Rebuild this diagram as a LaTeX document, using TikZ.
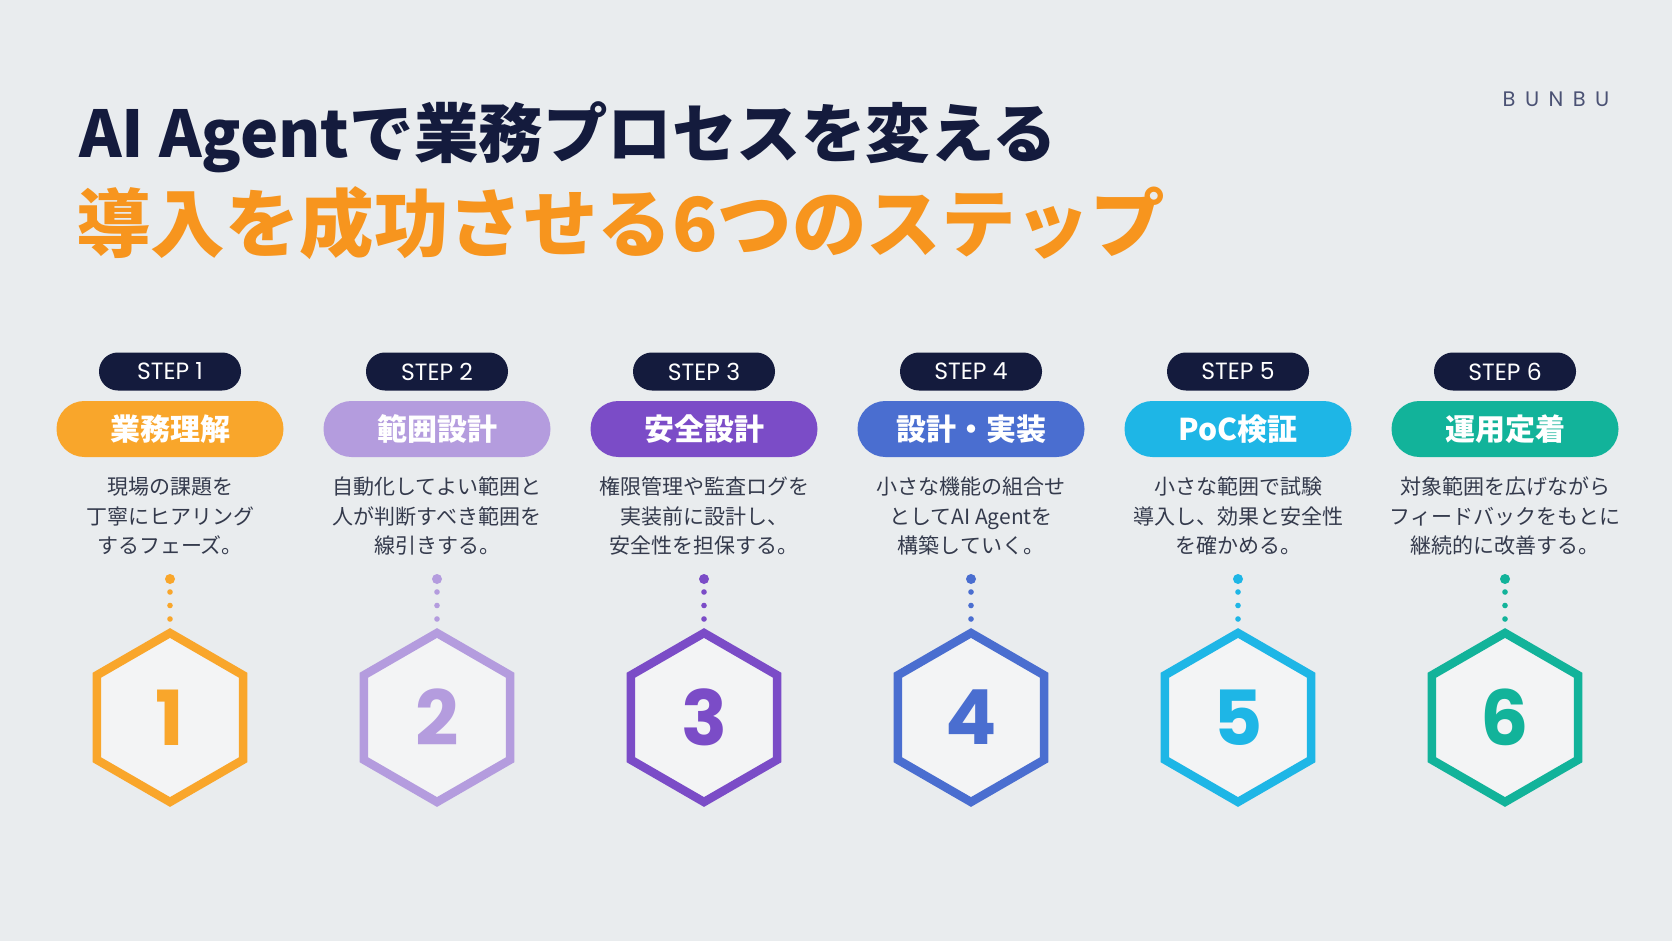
\documentclass[tikz,border=0pt]{standalone}
\usepackage{fontspec}
\setmainfont{Noto Sans CJK JP}
\newfontfamily\pop{Poppins}
\newfontfamily\bunbufont{Poppins}[LetterSpace=45]
\definecolor{bg}{HTML}{E9ECEE}
\definecolor{navy}{HTML}{141B3D}
\definecolor{titleorange}{HTML}{F7951E}
\definecolor{desc}{HTML}{343A4C}
\definecolor{brand}{HTML}{4B5274}
\definecolor{hexfill}{HTML}{F3F4F5}
\definecolor{cA}{HTML}{F9A62B}
\definecolor{cB}{HTML}{B49CDE}
\definecolor{cC}{HTML}{7B4CC7}
\definecolor{cD}{HTML}{4A6ED0}
\definecolor{cE}{HTML}{1EB6E6}
\definecolor{cF}{HTML}{12B39A}
\begin{document}
\begin{tikzpicture}[x=1pt,y=-1pt,
  steppill/.style={fill=navy, rounded corners=18.9pt, minimum width=142pt, minimum height=38pt, text=white, font=\pop\fontsize{23.5}{26}\selectfont, inner sep=0pt},
  namepill/.style={rounded corners=27.9pt, minimum width=227pt, minimum height=56pt, text=white, font=\bfseries\fontsize{30}{32}\selectfont, inner sep=0pt},
  desctext/.style={align=center, text=desc, font=\fontsize{21}{29.5}\selectfont, inner sep=0pt},
  numtext/.style={font=\pop\bfseries\fontsize{76}{76}\selectfont, inner sep=0pt},
  hexline/.style={line width=8.5pt, fill=hexfill, line join=miter}
]
\useasboundingbox (0,0) rectangle (1672,941);
\fill[bg] (0,0) rectangle (1672,941);

\node[text=brand, font=\bunbufont\fontsize{21}{24}\selectfont, anchor=center] (brand) at (1556,99) {BUNBU};

\node[anchor=base west, text=navy, font=\bfseries\fontsize{64.5}{70}\selectfont, inner sep=0pt] (title1) at (79,158) {AI Agentで業務プロセスを変える};
\node[anchor=base west, text=titleorange, font=\bfseries\fontsize{74.5}{78}\selectfont, inner sep=0pt] (title2) at (76,252) {導入を成功させる6つのステップ};

\foreach \i/\col/\name/\desc in {
  1/cA/業務理解/{現場の課題を\\丁寧にヒアリング\\するフェーズ。},
  2/cB/範囲設計/{自動化してよい範囲と\\人が判断すべき範囲を\\線引きする。},
  3/cC/安全設計/{権限管理や監査ログを\\実装前に設計し、\\安全性を担保する。},
  4/cD/設計・実装/{小さな機能の組合せ\\としてAI Agentを\\構築していく。},
  5/cE/PoC検証/{小さな範囲で試験\\導入し、効果と安全性\\を確かめる。},
  6/cF/運用定着/{対象範囲を広げながら\\フィードバックをもとに\\継続的に改善する。}} {
  \pgfmathsetmacro{\cx}{170+267*(\i-1)}
  \node[steppill] (step\i) at (\cx,371.5) {STEP \i};
  \node[namepill, fill=\col] (name\i) at (\cx,429) {\name};
  \node[desctext] (desc\i) at (\cx,516) {\desc};
  \coordinate (dot\i) at (\cx,579);
  \fill[\col] (dot\i) circle (5);
  \fill[\col] (\cx,592) circle (2.8);
  \fill[\col] (\cx,605.5) circle (2.8);
  \fill[\col] (\cx,619) circle (2.8);
  \coordinate (hc\i) at (\cx,717.5);
  \draw[hexline, draw=\col] (hc\i) +(90:84.5) -- +(30:84.5) -- +(-30:84.5) -- +(-90:84.5) -- +(-150:84.5) -- +(150:84.5) -- cycle;
  \node[numtext, text=\col] (num\i) at (hc\i) {\i};
}
\end{tikzpicture}
\end{document}
